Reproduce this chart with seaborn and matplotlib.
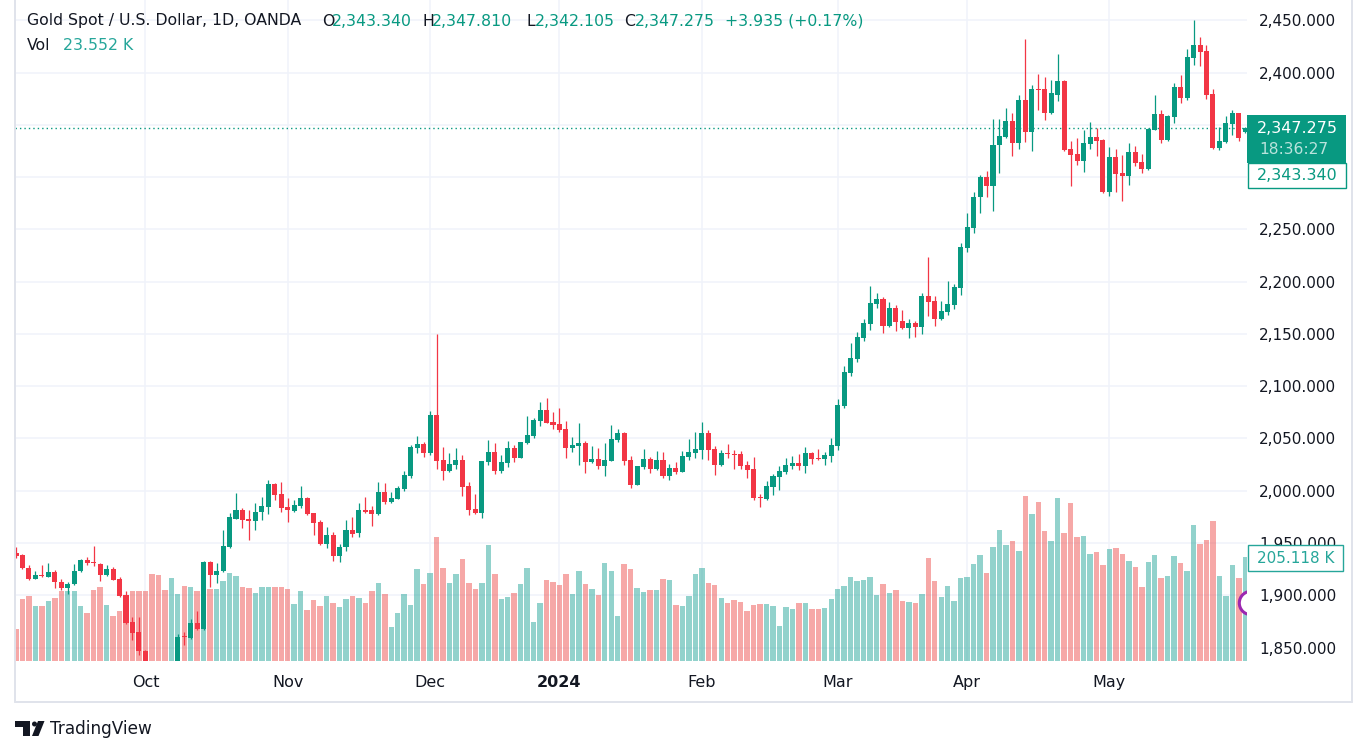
import numpy as np
import pandas as pd
import matplotlib
matplotlib.use("Agg")
import matplotlib.pyplot as plt
import seaborn as sns
from matplotlib.patches import Rectangle, Polygon, Ellipse
from matplotlib.lines import Line2D

# ---------------- data ----------------
opens = [
    1940, 1938.8, 1926.3, 1916, 1919.6, 1917.6, 1922.4, 1912.8, 1907.4, 1910.3,
    1922.8, 1934, 1931, 1930.1, 1918.9, 1925.3, 1915.7, 1900.3, 1874.4, 1864.8,
    1847, 1828, 1822, 1821, 1820, 1833, 1861, 1858.7, 1873.4, 1867.6,
    1932, 1919, 1922.8, 1945.8, 1973.1, 1981.1, 1972.5, 1970.8, 1979.5, 1984.3,
    2006.1, 1996.5, 1984, 1981, 1985.3, 1992.6, 1978.2, 1969.6, 1949.4, 1958,
    1937.2, 1945.8, 1962.8, 1959.3, 1981.1, 1981.1, 1977.6, 1998.4, 1989.1, 1992,
    2001.3, 2014.1, 2040.7, 2044.6, 2035.6, 2072.1, 2029.2, 2018.9, 2024.7, 2029.2,
    2004.2, 1982.1, 1978.5, 2027.6, 2036.9, 2018.9, 2026.6, 2040.7, 2031.4, 2045.8,
    2052.6, 2067, 2077.2, 2065.7, 2063.8, 2059, 2041, 2043, 2045.5, 2027,
    2030.1, 2023.7, 2028.5, 2048.7, 2055.4, 2029.3, 2005.7, 2022.9, 2030.2, 2021,
    2029.3, 2014.3, 2021.6, 2018.1, 2032.5, 2036.3, 2039.2, 2055.1, 2039.8, 2024.8,
    2036, 2035, 2035, 2024.5, 2020.7, 1993.9, 1992, 2003.8, 2013, 2017.8,
    2023.6, 2026.4, 2023.6, 2036, 2031, 2030, 2033, 2042.6, 2081.1, 2112.8,
    2126.3, 2146.5, 2159, 2178.5, 2183, 2157.4, 2174.4, 2161.9, 2155.5, 2160,
    2156.4, 2185.9, 2181.1, 2164.1, 2170.8, 2177.2, 2193.6, 2232.1, 2251.6, 2280.5,
    2300.3, 2291, 2330.4, 2338.8, 2353.2, 2333, 2373.4, 2343.6, 2384, 2384,
    2361, 2379, 2392, 2326.9, 2322.1, 2315.7, 2332, 2338.3, 2335.5, 2286,
    2319.2, 2303.9, 2301.3, 2324, 2314.4, 2308, 2345.4, 2360.4, 2335.8, 2357.5,
    2386.2, 2375.7, 2414, 2426.4, 2420.7, 2379.5, 2328.1, 2333.9, 2351.1, 2361.3,
    2343.34,
]
highs = [
    1946, 1939.5, 1929.2, 1923.4, 1929.2, 1931.1, 1924.4, 1915.7, 1912.8, 1929.8,
    1934.5, 1936.8, 1947.4, 1930.8, 1929.2, 1927.3, 1917, 1903.8, 1879.2, 1879.2,
    1848, 1831, 1826, 1825, 1834, 1863, 1864.7, 1877.3, 1885, 1933,
    1932.5, 1931, 1962.8, 1978.5, 1997.4, 1983, 1981.1, 1987.8, 1993.6, 2010,
    2007, 2008, 1992.6, 1990.7, 2004.2, 1993.6, 1978.2, 1971.5, 1965.7, 1960.9,
    1949.4, 1971.5, 1975.3, 1987.8, 1993.6, 1984.9, 2008, 2007, 1998.4, 2004.2,
    2018.6, 2043.6, 2052.2, 2046.8, 2076.6, 2149.7, 2041.7, 2035.9, 2040.7, 2034,
    2008, 1996.5, 2028.8, 2048.4, 2045.5, 2034.3, 2047.4, 2043.6, 2046.8, 2071.5,
    2069.6, 2084.9, 2088.8, 2075.3, 2078.9, 2066.7, 2051.3, 2064.7, 2047.8, 2042.6,
    2040.7, 2045.5, 2062.8, 2059, 2056.4, 2033.1, 2023.9, 2039.8, 2032.2, 2037.9,
    2037, 2025.5, 2027.4, 2037.9, 2049.4, 2056, 2065.6, 2058, 2042.7, 2038.8,
    2044.6, 2038.8, 2037.9, 2028.3, 2032.2, 1997.1, 2009.2, 2015.9, 2023.6, 2031.2,
    2033.1, 2035, 2041.7, 2036.9, 2039.8, 2037, 2050.3, 2087.8, 2119.6, 2141.7,
    2152.2, 2164.7, 2195.5, 2188.8, 2184.9, 2180.1, 2177.2, 2172.4, 2163.8, 2162.8,
    2188.8, 2223.4, 2185.9, 2181.1, 2200.3, 2197.4, 2236.9, 2265.7, 2285.3, 2301.9,
    2306.1, 2355.1, 2355.1, 2365.7, 2360.9, 2378.2, 2432, 2388.5, 2399, 2396,
    2393, 2418, 2392.5, 2334.5, 2337.4, 2345, 2352.7, 2347, 2336.5, 2328.8,
    2326.9, 2321.1, 2332.6, 2329.7, 2322.1, 2346.6, 2378.5, 2364.2, 2359.4, 2390,
    2397.7, 2422.6, 2450.3, 2434, 2426.4, 2384.3, 2347.9, 2358.4, 2364.2, 2361.5,
    2347.81,
]
lows = [
    1936, 1925, 1914.7, 1915.5, 1917, 1917, 1907.4, 1905.1, 1901, 1910,
    1922.5, 1929.2, 1928.2, 1914, 1918, 1915, 1898.7, 1872.4, 1857.4, 1842.6,
    1826, 1815, 1816, 1813, 1810, 1832, 1852, 1857.7, 1867, 1867,
    1908.3, 1912, 1922, 1945.5, 1972.5, 1964.8, 1953.2, 1962.8, 1971.8, 1977.6,
    1991, 1979.5, 1969.6, 1979.5, 1983.3, 1977, 1957.4, 1948.1, 1944.9, 1933,
    1931.4, 1942, 1955.5, 1956.1, 1978.5, 1966, 1977, 1987.2, 1988.1, 1991.7,
    1999.4, 2012.2, 2036.2, 2032.4, 2034.3, 2020.8, 2010.3, 2018, 2020.5, 1994.9,
    1976.6, 1977.6, 1973.7, 2024.7, 2016, 2017, 2022.8, 2027.6, 2031, 2045,
    2050.6, 2062.2, 2065, 2059, 2056.1, 2031.4, 2037.2, 2024.7, 2017, 2026.3,
    2020.8, 2014.1, 2028, 2046.5, 2024.5, 2002.9, 2005, 2021, 2017.2, 2020,
    2012.4, 2010.5, 2016.2, 2017.5, 2029.6, 2031.5, 2030.6, 2029.3, 2015.3, 2023.9,
    2031.5, 2021, 2021, 2012.4, 1991.4, 1984.7, 1991, 1995.9, 2000.6, 2015.9,
    2021, 2019.7, 2017.2, 2025.5, 2029.3, 2025, 2027.3, 2038.8, 2079.5, 2110,
    2123.4, 2143.6, 2154.2, 2174.4, 2150.6, 2156.4, 2152.6, 2155, 2145.8, 2146.8,
    2149.7, 2167, 2157.4, 2163, 2168, 2173.4, 2186.9, 2228.2, 2246.8, 2266,
    2280.5, 2268, 2303.5, 2337.8, 2319.9, 2326.6, 2334, 2324.5, 2364, 2355,
    2360, 2373, 2325.3, 2291.8, 2311.9, 2305.2, 2327.2, 2320.5, 2285, 2282.2,
    2286, 2277.4, 2292.7, 2310.9, 2304.2, 2307, 2345, 2332.9, 2334.8, 2351.7,
    2371.2, 2373.8, 2407.3, 2406.3, 2374.7, 2327.2, 2326.2, 2332.9, 2340.3, 2334.8,
    2342.105,
]
closes = [
    1938, 1925.6, 1916, 1919.6, 1918.6, 1922.4, 1912.2, 1907.4, 1911.2, 1923.4,
    1934, 1930.5, 1930.5, 1918.9, 1925, 1915, 1899.4, 1873.4, 1863.8, 1847.1,
    1828, 1822, 1821, 1820, 1832, 1860.5, 1860, 1873.4, 1867.6, 1932,
    1919, 1923.4, 1947.4, 1974.4, 1981.1, 1971.8, 1970.8, 1980.1, 1984.9, 2006.1,
    1995.8, 1983.3, 1981.4, 1985.9, 1992.6, 1977.6, 1968.9, 1949.4, 1958, 1937.2,
    1946.5, 1962.8, 1959, 1981.1, 1979.8, 1977.6, 1998.4, 1989.1, 1992.6, 2002.2,
    2014.7, 2041.7, 2044.6, 2036.2, 2072.1, 2028.5, 2018.9, 2025.3, 2029.2, 2003.5,
    1981.4, 1978.5, 2028.2, 2036.9, 2018.9, 2027.3, 2040.7, 2031.4, 2046.5, 2053.2,
    2067.6, 2077.2, 2065.1, 2063.1, 2058, 2041, 2043.6, 2045.5, 2027.6, 2030.1,
    2023.7, 2029.2, 2049.4, 2055.1, 2028.7, 2005.7, 2023.6, 2030.2, 2021, 2029.3,
    2014.3, 2021.6, 2018.1, 2033.1, 2037, 2039.8, 2055.1, 2039.2, 2024.8, 2036,
    2035.3, 2034.4, 2023.9, 2020, 1993.3, 1993.3, 2004.4, 2014, 2018.8, 2024.5,
    2026.4, 2023.6, 2036, 2030.2, 2030.2, 2034.5, 2043.6, 2082, 2113.8, 2127.2,
    2147.4, 2160, 2179.2, 2183, 2157.4, 2174.4, 2161.2, 2155.5, 2160, 2156.4,
    2185.9, 2180.5, 2164.1, 2171.5, 2178.2, 2194.6, 2233, 2252.2, 2281.1, 2300.3,
    2291, 2331.1, 2339.7, 2353.2, 2333, 2373.4, 2343.6, 2384, 2383, 2361,
    2380, 2392, 2326.2, 2321.4, 2315.7, 2332.6, 2338.3, 2334.8, 2286, 2319.2,
    2303.3, 2301.3, 2324, 2313.8, 2308, 2346.3, 2360.4, 2335.8, 2358.4, 2386.2,
    2375.7, 2414.9, 2426.4, 2419.7, 2378.5, 2328.1, 2334.5, 2351.7, 2361.3, 2337.7,
    2347.275,
]
volumes_k = [
    63, 122, 128, 108, 108, 118, 124, 138, 138, 138,
    108, 95, 140, 146, 110, 89, 98, 95, 138, 138,
    138, 171, 169, 140, 163, 132, 148, 146, 138, 150,
    142, 142, 158, 173, 167, 146, 144, 134, 146, 146,
    146, 146, 142, 112, 138, 100, 120, 108, 128, 114,
    106, 122, 128, 124, 114, 138, 154, 132, 67, 95,
    132, 110, 181, 152, 173, 244, 183, 154, 171, 201,
    154, 142, 154, 229, 171, 122, 126, 134, 152, 183,
    77, 114, 160, 156, 150, 171, 132, 177, 152, 142,
    130, 193, 177, 89, 191, 181, 144, 136, 140, 140,
    162, 160, 110, 108, 128, 171, 183, 154, 150, 124,
    114, 120, 116, 98, 110, 112, 112, 108, 69, 106,
    102, 114, 114, 102, 102, 104, 122, 142, 148, 165,
    158, 160, 165, 130, 152, 134, 140, 118, 116, 114,
    132, 203, 158, 126, 148, 118, 163, 165, 191, 209,
    173, 225, 258, 229, 236, 217, 325, 290, 313, 256,
    236, 321, 252, 311, 244, 246, 211, 215, 189, 221,
    223, 211, 197, 185, 146, 195, 209, 163, 167, 207,
    193, 177, 268, 230, 238, 276, 167, 128, 189, 163,
    205.118,
]
month_pos = [20, 42, 64, 84, 106, 127, 147, 169]
month_labels = ["Oct", "Nov", "Dec", "2024", "Feb", "Mar", "Apr", "May"]
price_ticks = [1850, 1900, 1950, 2000, 2050, 2100, 2150, 2200, 2250, 2300, 2350, 2400, 2450]
hidden_ticks = [2300, 2350]   # covered by the last-price label in the reference
last_price = 2347.275
last_open = 2343.34
last_volume_label = "205.118 K"

n = len(opens)
assert len(highs) == n and len(lows) == n and len(closes) == n and len(volumes_k) == n

# ---------------- styling ----------------
UP, DOWN = "#089981", "#f23645"
VUP, VDOWN = "#26a69a", "#ef5350"
TXT = "#131722"
GRID = "#f0f3fa"

sns.set_theme(style="white")
plt.rcParams["font.family"] = ["DejaVu Sans"]

W, H = 1365, 756
fig = plt.figure(figsize=(W / 100, H / 100), dpi=100)
fig.patch.set_facecolor("white")


def fx(x):
    return x / W


def fy(y):
    return 1 - y / H


L, R, T, B = 15, 1247, 0, 661
rect = [fx(L), fy(B), (R - L) / W, (B - T) / H]
XLIM = (-0.155, 190.26)
YLIM = (1837.1, 2469.4)
VLIM = (0, 1303.7)

ax = fig.add_axes(rect)          # grid + axis labels
ax_vol = fig.add_axes(rect)      # volume
ax_c = fig.add_axes(rect)        # candles
ax.set_zorder(0)
ax_vol.set_zorder(1)
ax_c.set_zorder(2)
for a in (ax_vol, ax_c):
    a.patch.set_alpha(0)

idx = np.arange(n)
o = np.array(opens)
c = np.array(closes)
h = np.array(highs)
lo = np.array(lows)
up = c >= o

# grid & ticks
ax.set_xlim(XLIM)
ax.set_ylim(YLIM)
for p in price_ticks:
    ax.axhline(p, color=GRID, lw=1.1, zorder=0)
for m in month_pos:
    ax.axvline(m, color=GRID, lw=1.1, zorder=0)
ax.set_xticks(month_pos)
ax.set_xticklabels(month_labels)
ax.yaxis.tick_right()
ax.set_yticks(price_ticks)
ax.set_yticklabels(["" if p in hidden_ticks else f"{p:,.3f}" for p in price_ticks])
ax.tick_params(axis="x", length=0, pad=10, labelsize=11.5, colors=TXT)
ax.tick_params(axis="y", length=0, pad=8.6, labelsize=11, colors=TXT)
for lab in ax.get_xticklabels():
    if lab.get_text() == "2024":
        lab.set_fontweight("bold")
for s in ax.spines.values():
    s.set_visible(False)

# volume (seaborn)
df = pd.DataFrame({"idx": idx, "vol": volumes_k, "dir": np.where(up, "up", "down")})
sns.barplot(data=df, x="idx", y="vol", hue="dir", palette={"up": VUP, "down": VDOWN},
            native_scale=True, dodge=False, width=0.84, alpha=0.5, saturation=1,
            errorbar=None, legend=False, linewidth=0, ax=ax_vol)
ax_vol.set_xlim(XLIM)
ax_vol.set_ylim(VLIM)
ax_vol.axis("off")

# candles
ax_c.set_xlim(XLIM)
ax_c.set_ylim(YLIM)
ax_c.axhline(last_price, color=UP, lw=1.0, ls=(0, (1, 2.2)), zorder=1)
cols = np.where(up, UP, DOWN)
ax_c.vlines(idx, lo, h, colors=cols, lw=0.9, zorder=2)
body_bottom = np.minimum(o, c)
body_h = np.maximum(np.abs(c - o), 1.0)
ax_c.bar(idx, body_h, bottom=body_bottom, width=0.78, color=cols, linewidth=0, zorder=3)
ax_c.axis("off")

# purple event marker (clipped by the plot edge)
ring = Ellipse(((1251 - L) / (R - L), (B - 603) / (B - T)), 23.4 / (R - L), 23.4 / (B - T),
               transform=ax_c.transAxes, facecolor="white", edgecolor="#9c27b0",
               lw=2.2, zorder=5, clip_on=True)
ax_c.add_patch(ring)

# ---------------- frame ----------------
FR = "#e0e3eb"
for (x0, y0, x1, y1) in [(15, 0, 15, 702), (15, 702, 1352, 702), (1352, 0, 1352, 702)]:
    fig.add_artist(Line2D([fx(x0), fx(x1)], [fy(y0), fy(y1)], transform=fig.transFigure,
                          color=FR, lw=1.4, zorder=10))

# ---------------- price / volume labels on the right axis ----------------
def frect(x0, y0, x1, y1, **kw):
    r = Rectangle((fx(x0), fy(y1)), (x1 - x0) / W, (y1 - y0) / H, transform=fig.transFigure, **kw)
    fig.add_artist(r)
    return r


frect(1247, 115, 1346, 162.5, facecolor=UP, edgecolor="none", zorder=20)
frect(1247.5, 162.5, 1345.5, 187.5, facecolor="white", edgecolor=UP, lw=1.0, zorder=20)
fig.text(fx(1297.5), fy(128.5), f"{last_price:,.3f}", color="white", fontsize=11.5,
         ha="center", va="center", zorder=21)
fig.text(fx(1294), fy(149.5), "18:36:27", color="#b9e3dc", fontsize=11.2,
         ha="center", va="center", zorder=21)
fig.text(fx(1297), fy(175), f"{last_open:,.3f}", color=UP, fontsize=11.5,
         ha="center", va="center", zorder=21)

frect(1248, 545, 1343, 571, facecolor="white", edgecolor=VUP, lw=1.0, zorder=20)
fig.text(fx(1295.5), fy(558.5), last_volume_label, color=VUP, fontsize=11,
         ha="center", va="center", zorder=21)

# ---------------- header ----------------
HY1, HY2 = 21, 46
HS = 11.3
fig.text(fx(27), fy(HY1), "Gold Spot / U.S. Dollar, 1D, OANDA", color=TXT, fontsize=HS, va="center")
segs = [(322, "O", TXT), (332, "2,343.340", UP), (422, "H", TXT), (432, "2,347.810", UP),
        (527, "L", TXT), (535, "2,342.105", UP), (624, "C", TXT), (635, "2,347.275", UP),
        (725, "+3.935 (+0.17%)", UP)]
for x, s, col in segs:
    fig.text(fx(x), fy(HY1), s, color=col, fontsize=HS, va="center")
fig.text(fx(27), fy(HY2), "Vol", color=TXT, fontsize=HS, va="center")
fig.text(fx(63), fy(HY2), "23.552 K", color=VUP, fontsize=HS, va="center")

# ---------------- TradingView logo ----------------
def fpoly(pts, **kw):
    p = Polygon([(fx(x), fy(y)) for x, y in pts], closed=True, transform=fig.transFigure, **kw)
    fig.add_artist(p)


fpoly([(15, 721), (30, 721), (30, 736), (23, 736), (23, 727), (15, 727)], facecolor=TXT, edgecolor="none")
fig.add_artist(Ellipse((fx(34.5), fy(724)), 5 / W, 5 / H, transform=fig.transFigure,
                       facecolor=TXT, edgecolor="none"))
fpoly([(38, 721), (44.5, 721), (38.5, 736), (32, 736)], facecolor=TXT, edgecolor="none")
fig.text(fx(50), fy(729), "TradingView", color=TXT, fontsize=12.2, va="center")

fig.savefig("out.png", dpi=100, facecolor="white")
